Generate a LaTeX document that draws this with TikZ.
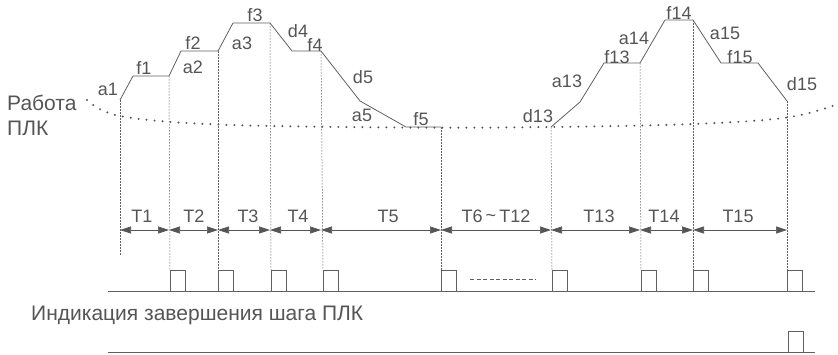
\documentclass[tikz,border=0pt]{standalone}
\usepackage{fontspec}
\setmainfont{Liberation Sans}
\usetikzlibrary{arrows.meta}
\definecolor{ink}{HTML}{555555}
\definecolor{lin}{HTML}{606060}
\begin{document}
\begin{tikzpicture}[x=1pt,y=-1pt,
  lbl/.style={inner sep=0pt,text=ink,font=\fontsize{18}{18}\selectfont},
  big/.style={inner sep=0pt,text=ink,font=\fontsize{21}{21}\selectfont},
  prof/.style={draw=lin,line width=0.8pt,line join=round},
  guide/.style={draw=lin,line width=0.5pt,dash pattern=on 1.6pt off 1.4pt},
  dimarr/.style={draw=ink,line width=0.7pt,{Triangle[length=11pt,width=7pt]}-{Triangle[length=11pt,width=7pt]}},
  pulse/.style={draw=lin,line width=0.7pt},
  base/.style={draw=lin,line width=0.8pt},
  plcdots/.style={draw=ink,line width=2.2pt,line cap=round,dash pattern=on 0pt off 8pt}]
\useasboundingbox (0,0) rectangle (838,354);
% profile coordinates
\coordinate (p0) at (120,100);
\coordinate (p1) at (133,76);
\coordinate (p2) at (169,76);
\coordinate (p3) at (181,51);
\coordinate (p4) at (218,51);
\coordinate (p5) at (233,23);
\coordinate (p6) at (270,23);
\coordinate (p7) at (292,51);
\coordinate (p8) at (321,51);
\coordinate (p9) at (360,101);
\coordinate (p10) at (406,127);
\coordinate (p11) at (441,127);
\coordinate (q0) at (551,127);
\coordinate (q1) at (580,102);
\coordinate (q2) at (604,63);
\coordinate (q3) at (640,63);
\coordinate (q4) at (665,20);
\coordinate (q5) at (693,20);
\coordinate (q6) at (721,63);
\coordinate (q7) at (758,63);
\coordinate (q8) at (787,101);
\path[prof] (p0)--(p1)--(p2)--(p3)--(p4)--(p5)--(p6)--(p7)--(p8)--(p9)--(p10)--(p11);
\path[prof] (q0)--(q1)--(q2)--(q3)--(q4)--(q5)--(q6)--(q7)--(q8);
% dotted PLC curve
\path[plcdots] plot[smooth,tension=0.6] coordinates {(87,100) (120,116) (218,124.5) (400,127.5) (551,127) (693,124) (787,117.5) (838,104)};
% baselines
\coordinate (b1l) at (108,291); \coordinate (b1r) at (815,291);
\coordinate (b2l) at (108,352); \coordinate (b2r) at (815,352);
\path[base] (b1l)--(b1r);
\path[base] (b2l)--(b2r);
% pulses
\foreach \n/\x in {1/170,2/218,3/271,4/323,5/441,6/552,7/641,8/693,9/787}{
  \coordinate (u\n) at (\x,291);
  \coordinate (ut\n) at (\x,270);
  \path[pulse] (u\n)--(ut\n)--++(15.5,0)--++(0,21);
}
\coordinate (v0) at (788,352);
\coordinate (vt0) at (788,331);
\path[pulse] (v0)--(vt0)--++(15.5,0)--++(0,21);
\coordinate (dl) at (470,279); \coordinate (dr) at (536,279);
\path[draw=lin,line width=0.6pt,dash pattern=on 4pt off 2.5pt] (dl)--(dr);
% guides
\coordinate (g0) at (120,255);
\path[guide] (p0)--(g0);
\path[guide] (p2)--(ut1);
\path[guide] (p4)--(ut2);
\path[guide] (p6)--(ut3);
\path[guide] (p8)--(ut4);
\path[guide] (p11)--(ut5);
\path[guide] (q0)--(ut6);
\path[guide] (q3)--(ut7);
\path[guide] (q5)--(ut8);
\path[guide] (q8)--(ut9);
% dimension arrows
\foreach \n/\x in {0/120,1/169,2/218,3/270,4/321,5/441,6/551,7/640,8/693,9/787}{
  \coordinate (r\n) at (\x,230);
}
\path[dimarr] (r0)--(r1);
\path[dimarr] (r1)--(r2);
\path[dimarr] (r2)--(r3);
\path[dimarr] (r3)--(r4);
\path[dimarr] (r4)--(r5);
\path[dimarr] (r5)--(r6);
\path[dimarr] (r6)--(r7);
\path[dimarr] (r7)--(r8);
\path[dimarr] (r8)--(r9);
\node[lbl] (T1) at (142,216) {T1};
\node[lbl] (T2) at (194,216) {T2};
\node[lbl] (T3) at (248,216) {T3};
\node[lbl] (T4) at (298,216) {T4};
\node[lbl] (T5) at (388,216) {T5};
\node[lbl] (T6) at (496,216) {T6\,\raisebox{0.5pt}{\textasciitilde}\,T12};
\node[lbl] (T13) at (599,216) {T13};
\node[lbl] (T14) at (664,216) {T14};
\node[lbl] (T15) at (738,216) {T15};
% profile labels
\node[lbl] (a1) at (108,89) {a1};
\node[lbl] (f1) at (144,68) {f1};
\node[lbl] (f2) at (193,43) {f2};
\node[lbl] (a2) at (193,67) {a2};
\node[lbl] (f3) at (255,15) {f3};
\node[lbl] (a3) at (242,43) {a3};
\node[lbl] (d4) at (298,31) {d4};
\node[lbl] (f4) at (315,45) {f4};
\node[lbl] (d5) at (363,77) {d5};
\node[lbl] (a5) at (362,115) {a5};
\node[lbl] (f5) at (421,119) {f5};
\node[lbl] (d13) at (538,116) {d13};
\node[lbl] (a13) at (567,81) {a13};
\node[lbl] (f13) at (617,57) {f13};
\node[lbl] (a14) at (634,38) {a14};
\node[lbl] (f14) at (679,13) {f14};
\node[lbl] (a15) at (725,33) {a15};
\node[lbl] (f15) at (740,57) {f15};
\node[lbl] (d15) at (802,84) {d15};
\node[big,anchor=west] (rab) at (7,103) {Работа};
\node[big,anchor=west] (plk) at (7,128) {ПЛК};
\node[big,anchor=west] (ind) at (31,315) {Индикация завершения шага ПЛК};
\end{tikzpicture}
\end{document}
